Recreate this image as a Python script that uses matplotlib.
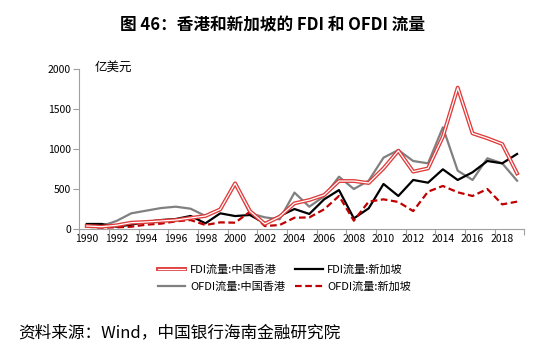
import numpy as np
import matplotlib
matplotlib.use('Agg')
import matplotlib.pyplot as plt
import matplotlib.patheffects as pe

plt.rcParams['font.family'] = ['Noto Sans CJK SC', 'DejaVu Sans']

years = list(range(1990, 2020))
fdi_hk = [34, 25, 42, 75, 84, 96, 108, 134, 159, 242,
          567, 220, 60, 150, 317, 358, 421, 596, 596, 571,
          754, 975, 713, 754, 1150, 1763, 1192, 1130, 1059, 692]
fdi_sg = [59, 59, 25, 50, 84, 108, 121, 159, 67, 192,
          158, 171, 67, 158, 246, 184, 367, 483, 129, 254,
          559, 409, 609, 575, 742, 609, 705, 846, 817, 934]
ofdi_hk = [42, 33, 96, 192, 225, 258, 275, 250, 159, 234,
           567, 192, 142, 117, 451, 275, 405, 650, 496, 600,
           888, 983, 846, 817, 1267, 725, 609, 880, 817, 600]
ofdi_sg = [25, 13, 17, 25, 50, 63, 92, 108, 46, 79,
           75, 212, 33, 46, 137, 141, 242, 409, 100, 338,
           367, 334, 220, 463, 534, 455, 409, 496, 304, 338]

labels = ['FDI流量:中国香港', 'FDI流量:新加坡', 'OFDI流量:中国香港', 'OFDI流量:新加坡']

x = np.arange(len(years))

fig = plt.figure(figsize=(5.5, 3.55), dpi=100)
ax = fig.add_axes([0.1442, 0.3558, 0.8094, 0.4507])

red = '#e03a3a'
l1, = ax.plot(x, fdi_hk, color='white', lw=0.9, label=labels[0], zorder=4,
              path_effects=[pe.Stroke(linewidth=2.8, foreground=red), pe.Normal()])
l2, = ax.plot(x, fdi_sg, color='black', lw=1.6, label=labels[1], zorder=3)
l3, = ax.plot(x, ofdi_hk, color='#808080', lw=1.6, label=labels[2], zorder=2)
l4, = ax.plot(x, ofdi_sg, color='#c00000', lw=1.6, ls=(0, (3, 1.6)), label=labels[3], zorder=3)

ax.set_xlim(-0.5, len(years) - 0.5)
ax.set_ylim(0, 2000)
ax.set_yticks([0, 500, 1000, 1500, 2000])
ax.set_xticks(x[::2])
ax.set_xticklabels([str(y) for y in years[::2]])
ax.set_xticks(np.arange(-0.5, len(years), 2), minor=True)
ax.tick_params(axis='x', which='major', length=0, pad=4, labelsize=7.5)
ax.tick_params(axis='x', which='minor', length=4, color='#a0a0a0', width=0.8)
ax.tick_params(axis='y', length=4, color='#a0a0a0', width=0.8, labelsize=7.5, pad=2)

for s in ['top', 'right']:
    ax.spines[s].set_visible(False)
for s in ['left', 'bottom']:
    ax.spines[s].set_color('#a0a0a0')
    ax.spines[s].set_linewidth(0.8)

fig.text(0.172, 0.81, '亿美元', fontsize=9, va='center', ha='left')

fig.text(0.495, 0.927, '图 46：香港和新加坡的 FDI 和 OFDI 流量', fontsize=12,
         fontweight='bold', ha='center', va='center')

# column-wise fill: first column HK, second column SG
fig.legend([l1, l3, l2, l4], [labels[0], labels[2], labels[1], labels[3]],
           loc='center', bbox_to_anchor=(0.517, 0.216), ncol=2, frameon=False,
           fontsize=8, handlelength=2.5, handletextpad=0.4, columnspacing=0.9,
           labelspacing=0.55)

fig.text(0.033, 0.062, '资料来源：Wind，中国银行海南金融研究院', fontsize=12,
         ha='left', va='center')

fig.savefig('out.png', dpi=100)
